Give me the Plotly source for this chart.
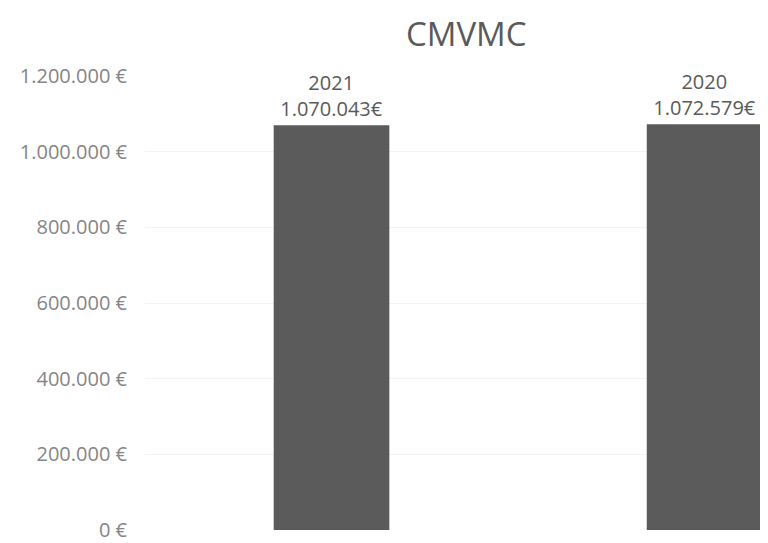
import plotly.graph_objects as go

years = ["2021", "2020"]
values = [1070043, 1072579]
value_labels = ["1.070.043€", "1.072.579€"]
tick_values = [0, 200000, 400000, 600000, 800000, 1000000, 1200000]
tick_labels = ["0 €", "200.000 €", "400.000 €", "600.000 €", "800.000 €", "1.000.000 €", "1.200.000 €"]

fig = go.Figure()
fig.add_trace(go.Bar(
    x=years, y=values,
    text=[f"{y}<br>{v}" for y, v in zip(years, value_labels)],
    textposition="outside",
    textfont=dict(color="#5a5a5a", size=20, family="Open Sans"),
    cliponaxis=False,
    marker=dict(color="#5b5b5b", line=dict(width=0)),
    width=0.31,
))

# page has an 8px body margin, so the figure is sized to fit inside it
fig.layout.update(
    width=760, height=535,
    plot_bgcolor="white", paper_bgcolor="white",
    margin=dict(l=137, r=0, t=68, b=9),
    showlegend=False,
    title=dict(text="CMVMC", x=0.603, xanchor="center", y=0.95, yanchor="middle",
               font=dict(size=33, color="#5a5a5a", family="Open Sans")),
    xaxis=dict(range=[-0.5, 1.17], showticklabels=False, showgrid=False, zeroline=False, showline=False),
    yaxis=dict(range=[0, 1200000], tickvals=tick_values, ticktext=tick_labels,
               showgrid=True, gridcolor="#f3f3f3", zeroline=False, showline=False,
               ticks="", ticklabelstandoff=17, ticklabeloverflow="allow",
               tickfont=dict(size=20, color="#858585", family="Open Sans")),
)

fig.write_html("out.html")
